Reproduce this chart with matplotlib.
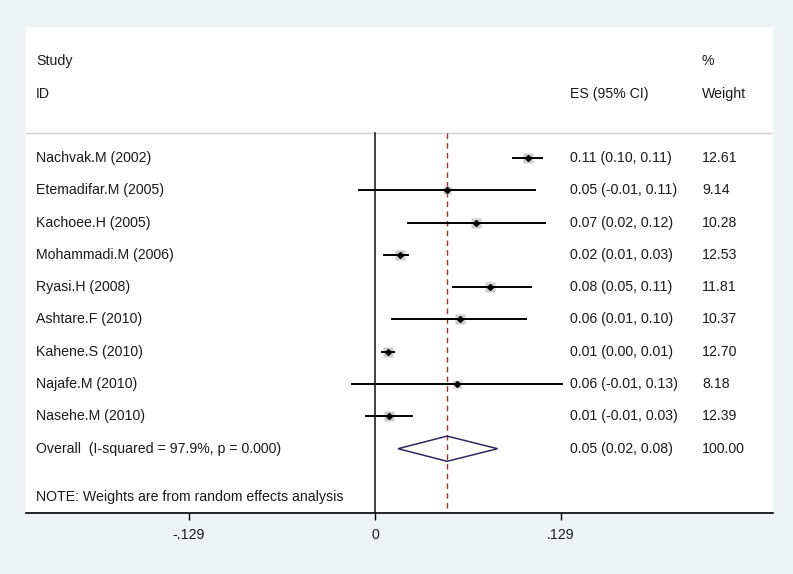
import matplotlib
matplotlib.use("Agg")
import matplotlib.pyplot as plt
import matplotlib.transforms as mtransforms
from matplotlib.patches import Polygon

plt.rcParams['font.family'] = ['Liberation Sans', 'DejaVu Sans']

# study data (effect sizes)
studies = ["Nachvak.M (2002)", "Etemadifar.M (2005)", "Kachoee.H (2005)",
           "Mohammadi.M (2006)", "Ryasi.H (2008)", "Ashtare.F (2010)",
           "Kahene.S (2010)", "Najafe.M (2010)", "Nasehe.M (2010)"]
es = [0.106, 0.050, 0.070, 0.017, 0.080, 0.059, 0.009, 0.057, 0.010]
lo = [0.096, -0.011, 0.023, 0.006, 0.054, 0.012, 0.005, -0.016, -0.006]
hi = [0.116, 0.111, 0.118, 0.023, 0.108, 0.105, 0.013, 0.130, 0.026]
weights = [12.61, 9.14, 10.28, 12.53, 11.81, 10.37, 12.70, 8.18, 12.39]
ci_txt = ["0.11 (0.10, 0.11)", "0.05 (-0.01, 0.11)", "0.07 (0.02, 0.12)",
          "0.02 (0.01, 0.03)", "0.08 (0.05, 0.11)", "0.06 (0.01, 0.10)",
          "0.01 (0.00, 0.01)", "0.06 (-0.01, 0.13)", "0.01 (-0.01, 0.03)"]
w_txt = ["12.61", "9.14", "10.28", "12.53", "11.81", "10.37", "12.70", "8.18", "12.39"]

overall_label = "Overall  (I-squared = 97.9%, p = 0.000)"
overall_es, overall_lo, overall_hi = 0.050, 0.016, 0.085
overall_txt = "0.05 (0.02, 0.08)"
overall_w = "100.00"
note = "NOTE: Weights are from random effects analysis"

xticks = [-0.129, 0, 0.129]
xticklabels = ["-.129", "0", ".129"]

bg = "#EEF3F6"
W, H = 793, 574
fig = plt.figure(figsize=(W / 100, H / 100), dpi=100, facecolor=bg)
ax = fig.add_axes([26 / W, (H - 513) / H, (773 - 26) / W, (513 - 27) / H])
ax.set_facecolor("white")

# x limits from the pixel scale of the original (0 at 375px, .129 at 561px)
scale = 186 / 0.129
ax.set_xlim((26 - 375) / scale, (773 - 375) / scale)
row_h = 32.3
ax.set_ylim((513 - 158) / row_h, (27 - 158) / row_h)

fs = 10.2
for s in ["top", "left", "right"]:
    ax.spines[s].set_visible(False)
ax.spines["bottom"].set_linewidth(1.2)
ax.set_yticks([])
ax.set_xticks(xticks)
ax.set_xticklabels(xticklabels, fontsize=fs, color="#1a1a1a")
ax.tick_params(axis="x", length=5, width=1, direction="out", pad=6)

n = len(studies)
ytop = -0.77
ybot = (513 - 158) / row_h
ax.axhline(ytop, color="#d2d2d2", lw=1.0)
ax.plot([0, 0], [ytop, ybot], color="#222222", lw=1.2)
ax.plot([overall_es, overall_es], [ytop, ybot], color="#a03034", lw=1.0,
        ls=(0, (4, 3)))

for i in range(n):
    ax.plot([lo[i], hi[i]], [i, i], color="black", lw=1.4, zorder=3)
    size = 7.5 * (weights[i] / 12.7) ** 0.5
    ax.plot(es[i], i, marker="s", ms=size, color="#c4c4c4", mec="none",
            alpha=0.85, zorder=2)
    ax.plot(es[i], i, marker="D", ms=3.0, color="black", zorder=4)

yo = n
dia = Polygon([[overall_lo, yo], [overall_es, yo - 0.39],
               [overall_hi, yo], [overall_es, yo + 0.39]],
              closed=True, fill=False, edgecolor="#2d2a5c", lw=1.1, zorder=3)
ax.add_patch(dia)

trans = mtransforms.blended_transform_factory(ax.transAxes, ax.transData)
x_lab = (36 - 26) / 747
x_ci = (570 - 26) / 747
x_w = (702 - 26) / 747
txt = dict(transform=trans, fontsize=fs, va="center", ha="left", color="#1a1a1a")

ax.text(x_lab, -3, "Study", **txt)
ax.text(x_lab, -1.98, "ID", **txt)
ax.text(x_ci, -1.98, "ES (95% CI)", **txt)
ax.text(x_w, -3, "%", **txt)
ax.text(x_w, -1.98, "Weight", **txt)

for i in range(n):
    ax.text(x_lab, i, studies[i], **txt)
    ax.text(x_ci, i, ci_txt[i], **txt)
    ax.text(x_w, i, w_txt[i], **txt)

ax.text(x_lab, yo, overall_label, **txt)
ax.text(x_ci, yo, overall_txt, **txt)
ax.text(x_w, yo, overall_w, **txt)
ax.text(x_lab, (497 - 158) / row_h, note, **txt)

fig.savefig("out.png", dpi=100, facecolor=bg)
